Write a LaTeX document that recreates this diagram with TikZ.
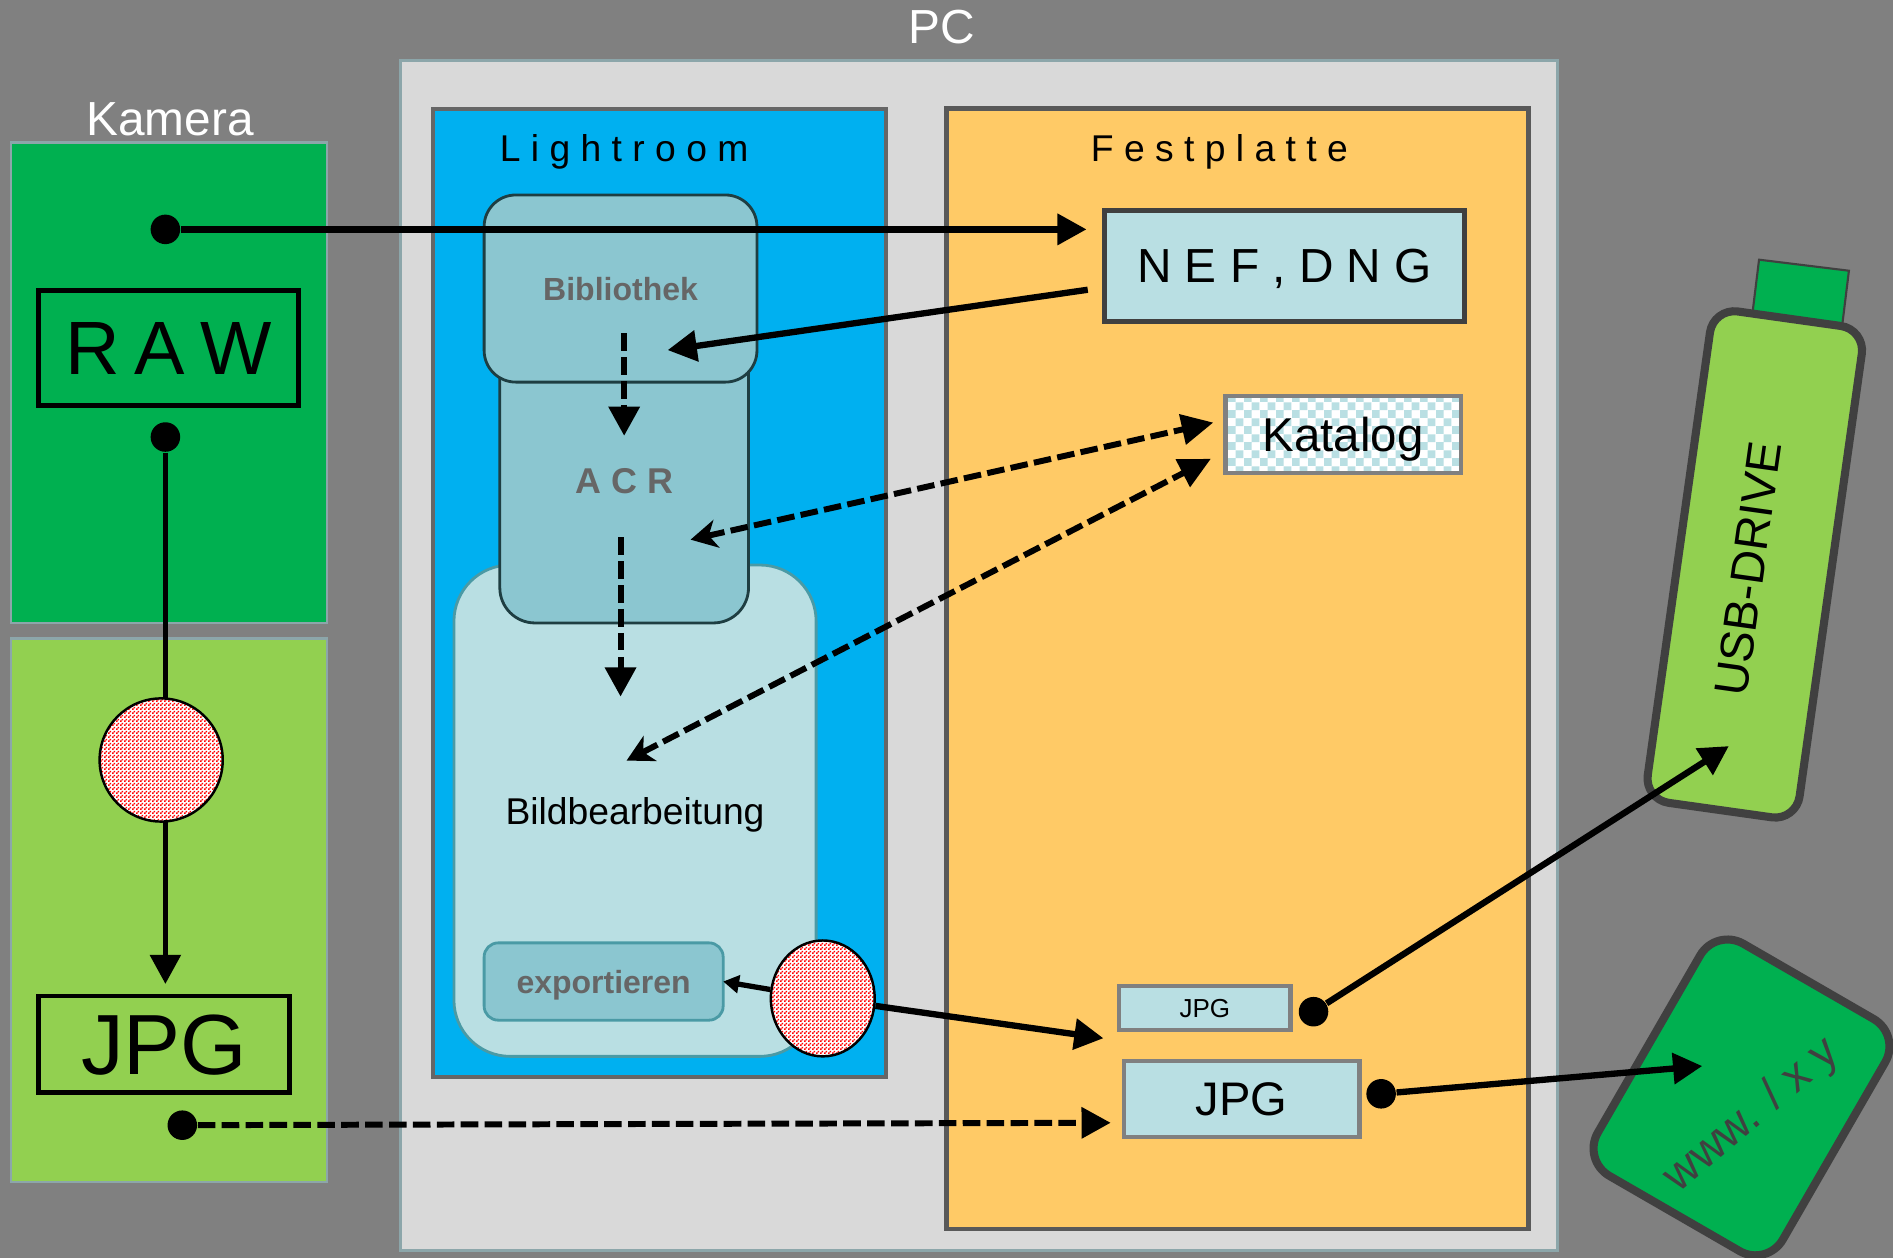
\documentclass[tikz,border=0pt]{standalone}
\usepackage{fontspec}
\setmainfont{Liberation Sans}
\usetikzlibrary{arrows.meta,patterns,shapes.geometric}

\definecolor{camdark}{HTML}{00B050}
\definecolor{camlight}{HTML}{92D050}
\definecolor{lrblue}{HTML}{00B0F0}
\definecolor{diskorange}{HTML}{FFCA66}
\definecolor{paleteal}{HTML}{B9DFE3}
\definecolor{midteal}{HTML}{8BC6D0}
\definecolor{edgeteal}{HTML}{4A9AA5}
\definecolor{edgeslate}{HTML}{8CA6AA}

\pgfdeclarepatternformonly{bigcheck}{\pgfqpoint{0pt}{0pt}}{\pgfqpoint{4.6pt}{4.6pt}}{\pgfqpoint{4.6pt}{4.6pt}}{
\pgfpathrectangle{\pgfqpoint{0pt}{0pt}}{\pgfqpoint{2.3pt}{2.3pt}}
\pgfpathrectangle{\pgfqpoint{2.3pt}{2.3pt}}{\pgfqpoint{2.3pt}{2.3pt}}
\pgfusepath{fill}}
\pgfdeclarepatternformonly{finecheck}{\pgfqpoint{0pt}{0pt}}{\pgfqpoint{1.138pt}{1.138pt}}{\pgfqpoint{1.138pt}{1.138pt}}{
\pgfpathrectangle{\pgfqpoint{0pt}{0pt}}{\pgfqpoint{0.569pt}{0.569pt}}
\pgfpathrectangle{\pgfqpoint{0.569pt}{0.569pt}}{\pgfqpoint{0.569pt}{0.569pt}}
\pgfusepath{fill}}

\def\unitlen{0.012073cm}
\def\rawfont{\fontsize{21.5}{21.5}\selectfont\spaceskip 4.3pt\relax}
\tikzset{
sized/.style 2 args={rectangle,minimum width=#1*\unitlen,minimum height=#2*\unitlen},
txt/.style={font=\fontsize{#1}{#1}\selectfont,text depth=0pt},
btxt/.style={font=\fontsize{#1}{#1}\selectfont\bfseries,text=black!60,text depth=0pt},
dot/.style={circle,fill=black,minimum size=8.4pt},
hot/.style={draw=black,line width=0.7pt,preaction={fill=white},pattern=finecheck,pattern color=red},
flow/.style={line width=1.8pt,-{Triangle[length=8.3pt,width=8.6pt]}},
flowback/.style={line width=1.7pt,{Stealth[length=7.5pt,width=8pt,inset=2.2pt]}-{Triangle[length=9pt,width=8.5pt]}},
smallflow/.style={line width=1.5pt,-{Triangle[length=4.5pt,width=5pt]}},
broken/.style={dash pattern=on 5pt off 1.8pt}
}

\begin{document}
\begin{tikzpicture}[x=\unitlen,y=\unitlen]
\tikzstyle{every node}+=[inner sep=0pt]
\useasboundingbox (0,0) rectangle (1568,-1042);
\fill [black!50] (0,0) rectangle (1568,-1042);
\node [sized={262}{398},fill=camdark,draw=edgeslate,line width=0.7pt] (camtop) at (140,-317) {};
\node [sized={262}{450},fill=camlight,draw=edgeslate,line width=0.7pt] (cambottom) at (140,-754) {};
\node [sized={958}{986},fill=black!15,draw=edgeslate,line width=0.8pt] (pc) at (811,-543) {};
\node [sized={375}{802},fill=lrblue,draw=black!60,line width=1.1pt] (lightroom) at (546.5,-491) {};
\node [sized={482}{928},fill=diskorange,draw=black!65,line width=1.3pt] (disk) at (1025,-554) {};
\node [txt=13.6,text=white] (pclabel) at (780,-22) {PC};
\node [txt=13.6,text=white] (camlabel) at (141,-99) {Kamera};
\node [txt=10.6] (lrlabel) at (517,-123) {L i g h t r o o m};
\node [txt=10.6] (disklabel) at (1010,-123) {F e s t p l a t t e};
\node [sized={300}{407},fill=paleteal,draw=edgeteal,line width=0.8pt,rounded corners=16pt,txt=10.6] (edit) at (526,-671.5) {Bildbearbeitung};
\node [sized={206}{236},fill=midteal,draw=black!60!edgeteal,line width=0.8pt,rounded corners=10pt,btxt=10.2] (acr) at (517,-398) {A C R};
\node [sized={226}{155},fill=midteal,draw=black!60!edgeteal,line width=0.8pt,rounded corners=9pt,btxt=9.1] (library) at (514,-239) {Bibliothek};
\node [sized={198}{64},fill=midteal,draw=edgeteal,line width=0.8pt,rounded corners=4pt,btxt=9.1] (export) at (500,-813) {exportieren};
\node [sized={215}{95},fill=camdark,draw=black,line width=1.4pt,font=\rawfont] (raw) at (139.5,-288.5) {R A W};
\node [sized={208}{80},fill=camlight,draw=black,line width=1.4pt,txt=24.3] (jpgcam) at (136,-865) {JPG};
\node [sized={298}{92},fill=paleteal,draw=black!75,line width=1.4pt,txt=13.6] (nef) at (1064,-220) {N E F , D N G};
\node [sized={195}{64},draw=black!50,line width=1.2pt,preaction={fill=white},pattern=bigcheck,pattern color=paleteal,txt=13.5] (catalog) at (1112.5,-360) {Katalog};
\node [sized={142}{36},fill=paleteal,draw=black!50,line width=1.2pt,txt=7.4] (jpgsmall) at (998,-835) {JPG};
\node [sized={195}{63},fill=paleteal,draw=black!50,line width=1.2pt,txt=13.4] (jpgweb) at (1028.5,-910.5) {JPG};
\node [sized={75}{45},fill=camdark,draw=black!75,line width=0.6pt,rotate=-7] (usbcap) at (1491.5,-242) {};
\node [sized={127}{411},fill=camlight,draw=black!75,line width=2.3pt,rounded corners=7pt,rotate=-8] (usb) at (1453.5,-467.5) {};
\node [txt=13.4,rotate=82] (usblabel) at (1448,-471) {USB-DRIVE};
\node [sized={177}{222},fill=camdark,draw=black!75,line width=2.3pt,rounded corners=9pt,rotate=-30] (web) at (1442.5,-909) {};
\node [txt=13.2,text=black!75,rotate=40] (weblabel) at (1449,-921) {www. / x y};
\node [dot] (rawin) at (137,-190) {};
\node [dot] (rawout) at (137,-362) {};
\node [dot] (jpgout) at (151,-932) {};
\node [dot] (smallout) at (1088,-838) {};
\node [dot] (webout) at (1144,-906) {};
\coordinate (nefin) at (900,-190);
\coordinate (nefout) at (901,-240);
\coordinate (libin) at (553,-290);
\coordinate (libdown) at (517,-276);
\coordinate (acrin) at (517,-361);
\coordinate (acrdown) at (514,-445);
\coordinate (editin) at (514,-577);
\coordinate (acrside) at (572,-447);
\coordinate (catleft) at (1005,-350);
\coordinate (editside) at (519,-630);
\coordinate (catlow) at (1003,-380);
\coordinate (camthrough) at (137,-629.5);
\coordinate (jpgcamin) at (137,-815);
\coordinate (smallin) at (914,-860);
\coordinate (webin) at (920,-930);
\coordinate (usbin) at (1432,-618);
\coordinate (wwwin) at (1410,-883);
\coordinate (exportin) at (599,-813);
\draw [flow] (rawin) -- (nefin);
\draw [flow] (nefout) -- (libin);
\draw [flow,line width=1.7pt,broken] (libdown) -- (acrin);
\draw [flow,line width=1.7pt,broken] (acrdown) -- (editin);
\draw [flowback,broken] (acrside) -- (catleft);
\draw [flowback,broken] (editside) -- (catlow);
\draw [flow,line width=1.7pt,broken] (jpgout) -- (webin);
\draw [flow] (smallout) -- (usbin);
\draw [flow] (webout) -- (wwwin);
\draw [line width=1.5pt] (rawout) -- (camthrough);
\draw [flow,line width=1.5pt] (camthrough) -- (jpgcamin);
\node [ellipse,minimum width=86*\unitlen,minimum height=96*\unitlen,hot] (convpc) at (681.5,-827) {};
\node [circle,minimum size=102*\unitlen,hot] (convcam) at (133.5,-629.5) {};
\draw [smallflow] (convpc) -- (exportin);
\draw [flow] (convpc) -- (smallin);
\end{tikzpicture}
\end{document}
